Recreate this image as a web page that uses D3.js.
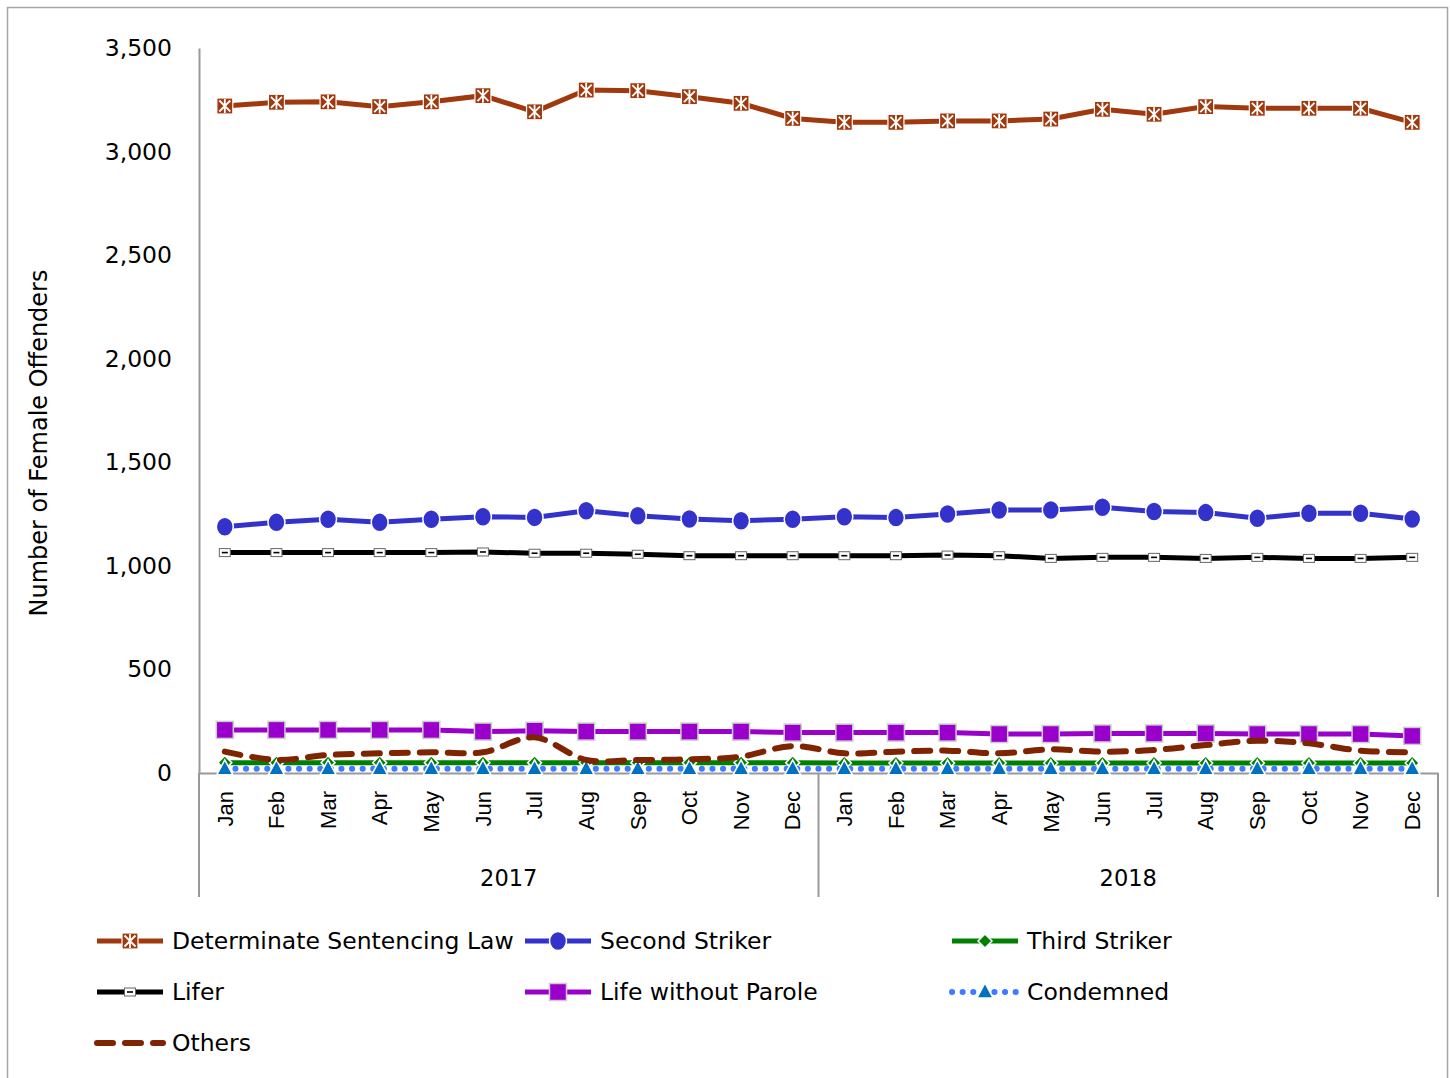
<!DOCTYPE html>
<html>
<head>
<meta charset="utf-8">
<script src="https://cdn.jsdelivr.net/npm/d3@7"></script>
<style>
  body { margin: 0; background: #fff; }
  svg { display: block; }
  text { font-family: "DejaVu Sans", Verdana, sans-serif; fill: #000; }
  .month { font-family: "Liberation Sans", Arial, sans-serif; font-size: 22px; }
</style>
</head>
<body>
<div id="container"></div>
<script>
// data
const months = ["Jan","Feb","Mar","Apr","May","Jun","Jul","Aug","Sep","Oct","Nov","Dec"];
const years = ["2017","2018"];
const yTicks = [0, 500, 1000, 1500, 2000, 2500, 3000, 3500];

const determinate = [3220,3238,3240,3217,3240,3270,3192,3297,3294,3265,3233,3160,
                     3141,3141,3148,3148,3157,3204,3180,3217,3209,3209,3209,3141];
const secondStriker = [1189,1210,1225,1210,1225,1237,1234,1266,1242,1226,1218,1225,
                       1237,1233,1250,1270,1270,1283,1262,1257,1230,1254,1254,1226];
const thirdStriker = [50,50,50,50,50,50,50,50,50,50,50,50,
                      48,48,48,48,48,48,48,48,48,48,48,48];
const lifer = [1064,1064,1064,1064,1064,1067,1061,1061,1056,1049,1049,1049,
               1049,1049,1052,1049,1036,1041,1041,1036,1041,1036,1036,1041];
const lifeWithoutParole = [208,208,208,208,208,200,204,200,200,200,200,195,
                           195,195,195,188,188,191,191,191,188,188,188,179];
const condemned = [20,20,20,20,20,20,20,20,20,20,20,20,
                   20,20,20,20,20,20,20,20,20,20,20,20];
const others = [103,63,87,95,100,100,172,63,63,66,79,130,
                95,103,108,95,114,103,111,135,156,143,108,100];

const width = 1450, height = 1078;
const plotLeft = 199, plotRight = 1438, plotTop = 48, plotBottom = 773;

const svg = d3.select("#container").append("svg")
  .attr("width", width).attr("height", height);

// outer frame
svg.append("rect")
  .attr("x", 7.5).attr("y", 7.5).attr("width", 1440).attr("height", 1080)
  .attr("fill", "none").attr("stroke", "#a6a6a6").attr("stroke-width", 1.5);

const cats = [];
years.forEach(yr => months.forEach(m => cats.push(yr + "-" + m)));

const x = d3.scaleBand().domain(cats).range([plotLeft, plotRight]);
const y = d3.scaleLinear().domain([0, 3500]).range([plotBottom, plotTop]);
const cx = c => x(c) + x.bandwidth() / 2;

// y axis
const yAxis = svg.append("g")
  .attr("transform", "translate(" + plotLeft + ",0)")
  .call(d3.axisLeft(y).tickValues(yTicks).tickFormat(d3.format(",")).tickSize(0).tickPadding(27));
yAxis.select(".domain").attr("stroke", "#999").attr("stroke-width", 2);
yAxis.selectAll("text").style("font-size", "23.5px").style("font-family", "DejaVu Sans");

svg.append("text")
  .attr("transform", "translate(47," + 443 + ") rotate(-90)")
  .attr("text-anchor", "middle")
  .style("font-size", "24px")
  .text("Number of Female Offenders");

// x axis, two levels
const xAxis = svg.append("g")
  .attr("transform", "translate(0," + plotBottom + ")")
  .call(d3.axisBottom(x).tickSize(0).tickFormat(c => c.split("-")[1]));
xAxis.select(".domain").attr("stroke", "#999").attr("stroke-width", 2);
xAxis.selectAll("text")
  .attr("class", "month")
  .attr("text-anchor", "end")
  .attr("transform", "rotate(-90)")
  .attr("x", -18).attr("y", 0).attr("dy", "0.35em");

const groupEdges = [plotLeft, x("2018-Jan"), plotRight];
svg.selectAll(".yearline").data(groupEdges).enter().append("line")
  .attr("x1", d => d).attr("x2", d => d)
  .attr("y1", plotBottom).attr("y2", 897)
  .attr("stroke", "#999").attr("stroke-width", 2);

svg.selectAll(".year").data(years).enter().append("text")
  .attr("x", (d, i) => (groupEdges[i] + groupEdges[i + 1]) / 2)
  .attr("y", 886)
  .attr("text-anchor", "middle")
  .style("font-size", "22.5px")
  .text(d => d);

// marker drawing
function marker(g, type) {
  if (type === "star") {
    g.append("rect").attr("x", -8).attr("y", -8).attr("width", 16).attr("height", 16)
      .attr("fill", "#A0390D").attr("stroke", "#fff").attr("stroke-width", 1.2);
    g.append("path").attr("d", "M-5.5,-5.5L5.5,5.5M5.5,-5.5L-5.5,5.5M0,-7L0,7")
      .attr("stroke", "#fff").attr("stroke-width", 1.8);
  } else if (type === "circle") {
    g.append("ellipse").attr("rx", 8.5).attr("ry", 9.5)
      .attr("fill", "#3333CC").attr("stroke", "#fff").attr("stroke-width", 1.5);
  } else if (type === "diamond") {
    g.append("path").attr("d", "M0,-7L7,0L0,7L-7,0Z")
      .attr("fill", "#008000").attr("stroke", "#fff").attr("stroke-width", 1.5);
  } else if (type === "dash") {
    g.append("rect").attr("x", -5.5).attr("y", -4).attr("width", 11).attr("height", 8)
      .attr("fill", "#fff").attr("stroke", "#666").attr("stroke-width", 1);
    g.append("line").attr("x1", -3).attr("x2", 3)
      .attr("stroke", "#000").attr("stroke-width", 1.6);
  } else if (type === "square") {
    g.append("rect").attr("x", -8.5).attr("y", -8.5).attr("width", 17).attr("height", 17)
      .attr("fill", "#9900CC").attr("stroke", "#ccc").attr("stroke-width", 1.5);
  } else if (type === "triangle") {
    g.append("path").attr("d", "M0,-9L8,6L-8,6Z")
      .attr("fill", "#0070C0").attr("stroke", "#fff").attr("stroke-width", 1.5);
  }
}

const series = [
  { name: "Determinate Sentencing Law", values: determinate, color: "#A0390D", width: 5, marker: "star" },
  { name: "Second Striker", values: secondStriker, color: "#3333CC", width: 5, marker: "circle" },
  { name: "Third Striker", values: thirdStriker, color: "#008000", width: 5, marker: "diamond" },
  { name: "Lifer", values: lifer, color: "#000000", width: 5, marker: "dash" },
  { name: "Life without Parole", values: lifeWithoutParole, color: "#9900CC", width: 5, marker: "square" },
  { name: "Condemned", values: condemned, color: "#3D7BFF", width: 6, marker: "triangle", dots: true },
  { name: "Others", values: others, color: "#7F2400", width: 6, marker: null, dashed: true, smooth: true }
];

function styleLine(p, s) {
  p.attr("fill", "none").attr("stroke", s.color).attr("stroke-width", s.width);
  if (s.dashed) p.attr("stroke-dasharray", "16,12").attr("stroke-linecap", "round");
  if (s.dots) p.attr("stroke-dasharray", "0.1,10.5").attr("stroke-linecap", "round");
  return p;
}

series.forEach(s => {
  const line = d3.line()
    .x((d, i) => cx(cats[i]))
    .y(d => y(d))
    .curve(s.smooth ? d3.curveCatmullRom.alpha(0.5) : d3.curveLinear);
  styleLine(svg.append("path").datum(s.values).attr("d", line), s);
  if (s.marker) {
    svg.append("g").selectAll("g").data(s.values).enter().append("g")
      .attr("transform", (d, i) => "translate(" + cx(cats[i]) + "," + y(d) + ")")
      .each(function () { marker(d3.select(this), s.marker); });
  }
});

// legend
const legendCols = [95, 523, 950];
const legendRows = [941, 992, 1043];
const legend = svg.append("g").attr("id", "legend");
series.forEach((s, i) => {
  const lx = legendCols[i % 3], ly = legendRows[Math.floor(i / 3)];
  const g = legend.append("g");
  styleLine(g.append("path").attr("d", "M" + (lx + 2) + "," + ly + "L" + (lx + 68) + "," + ly), s);
  if (s.marker) {
    const m = g.append("g").attr("transform", "translate(" + (lx + 35) + "," + ly + ")");
    marker(m, s.marker);
  }
  g.append("text").attr("x", lx + 77).attr("y", ly).attr("dy", "0.36em")
    .style("font-size", "23.5px").text(s.name);
});
</script>
</body>
</html>
